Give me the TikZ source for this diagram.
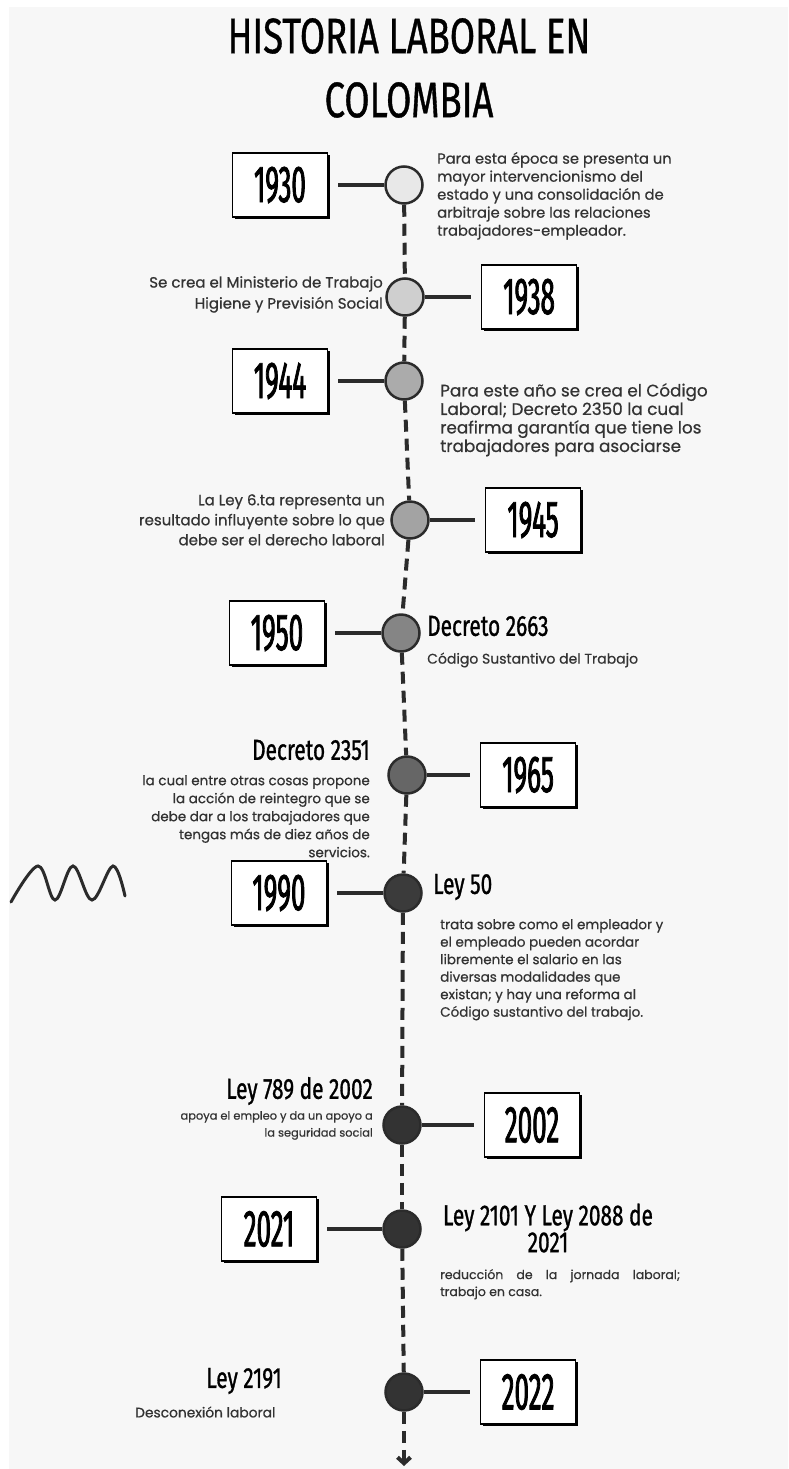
\documentclass[tikz,border=0pt]{standalone}
\usepackage{fontspec}
\setmainfont{Poppins}[FakeBold=0.6]
\newfontfamily\titlefont[FakeStretch=0.73,FakeBold=0.7]{Fira Sans}
\newfontfamily\handfont[FakeStretch=0.72,FakeBold=1]{Fira Sans}
\newfontfamily\yearfont[FakeStretch=0.5,FakeBold=1.5]{Fira Sans}
\usetikzlibrary{positioning,shadows,arrows.meta}
\definecolor{paper}{HTML}{F7F7F7}
\definecolor{ink}{HTML}{2B2B2B}
\definecolor{bodytext}{HTML}{333333}

\begin{document}
\begin{tikzpicture}[
       x=1pt, y=-1pt,
       node distance=56pt,
       yearbox/.style={rectangle, draw=black, line width=1.6pt, fill=white, minimum width=95pt, minimum height=64pt,
                       font=\yearfont\fontsize{52}{52}\selectfont,
                       drop shadow={shadow xshift=2.2pt, shadow yshift=-2.2pt, fill=black, opacity=1}},
       dot/.style={circle, draw=ink, line width=2.5pt, minimum size=37pt, inner sep=0pt},
       link/.style={line width=4pt, ink, shorten >=10pt},
       timeline/.style={line width=4pt, ink, dash pattern=on 12pt off 7pt},
       note/.style={text=bodytext, inner sep=0pt},
       head/.style={font=\handfont\fontsize{29}{24}\selectfont, inner sep=0pt, align=center}
   ]
   \useasboundingbox (0,0) rectangle (788,1469);
   \fill[white] (0,0) rectangle (788,1469);
   \fill[paper] (9,7) rectangle (788,1469);

   \node[font=\titlefont\fontsize{50}{64}\selectfont, align=center] (title) at (409,68) {HISTORIA LABORAL EN\\COLOMBIA};

   % timeline dots
   \node[dot, fill=black!9] (c1930) at (404,185) {};
   \node[dot, fill=black!19] (c1938) at (405,297) {};
   \node[dot, fill=black!33] (c1944) at (404,381) {};
   \node[dot, fill=black!36] (c1945) at (410,520) {};
   \node[dot, fill=black!48] (c1950) at (401,633) {};
   \node[dot, fill=black!60] (c1965) at (407,775) {};
   \node[dot, fill=black!77] (c1990) at (403,893) {};
   \node[dot, fill=black!80] (c2002) at (402,1125) {};
   \node[dot, fill=black!80] (c2021) at (402,1229) {};
   \node[dot, fill=black!80] (c2022) at (404,1392) {};
   \coordinate (tend) at (404,1466);

   % year boxes
   \node[yearbox, left=of c1930] (y1930) {1930};
   \node[yearbox, right=of c1938] (y1938) {1938};
   \node[yearbox, left=of c1944] (y1944) {1944};
   \node[yearbox, right=55pt of c1945] (y1945) {1945};
   \node[yearbox, left=of c1950] (y1950) {1950};
   \node[yearbox, right=53pt of c1965] (y1965) {1965};
   \node[yearbox, left=of c1990] (y1990) {1990};
   \node[yearbox, right=62pt of c2002] (y2002) {2002};
   \node[yearbox, left=65pt of c2021] (y2021) {2021};
   \node[yearbox, right=of c2022] (y2022) {2022};

   % texts
   \node[note, font=\fontsize{14.7}{18}\selectfont, align=left, anchor=north west] (t1930) at (437,152)
     {Para esta época se presenta un\\mayor intervencionismo del\\estado y una consolidación de\\arbitraje sobre las relaciones\\trabajadores-empleador.};
   \node[note, font=\fontsize{15}{21}\selectfont, align=right, anchor=north east] (t1938) at (383,276)
     {Se crea el Ministerio de Trabajo\\Higiene y Previsión Social};
   \node[note, font=\fontsize{16.8}{18.5}\selectfont, align=left, anchor=north west] (t1944) at (440,383)
     {Para este año se crea el Código\\Laboral; Decreto 2350 la cual\\reafirma garantía que tiene los\\trabajadores para asociarse};
   \node[note, font=\fontsize{15}{20}\selectfont, align=right, anchor=north east] (t1945) at (385,494)
     {La Ley 6.ta representa un\\resultado influyente sobre lo que\\debe ser el derecho laboral};
   \node[head, anchor=west] (h1950) at (427,626) {Decreto 2663};
   \node[note, font=\fontsize{14}{18}\selectfont, anchor=west] (t1950) at (427,660) {Código Sustantivo del Trabajo};
   \node[head, anchor=east] (h1965) at (370,750) {Decreto 2351};
   \node[note, font=\fontsize{13.5}{18}\selectfont, align=right, anchor=north east] (t1965) at (370,775)
     {la cual entre otras cosas propone\\la acción de reintegro que se\\debe dar a los trabajadores que\\tengas más de diez años de\\servicios.};
   \node[head, anchor=west] (h1990) at (433,887) {Ley 50};
   \node[note, font=\fontsize{13.5}{17.5}\selectfont, align=left, anchor=north west] (t1990) at (440,919)
     {trata sobre como el empleador y\\el empleado pueden acordar\\libremente el salario en las\\diversas modalidades que\\existan; y hay una reforma al\\Código sustantivo del trabajo.};
   \node[head, anchor=east] (h2002) at (373,1091) {Ley 789 de 2002};
   \node[note, font=\fontsize{11.4}{17}\selectfont, align=right, anchor=north east] (t2002) at (373,1111)
     {apoya el empleo y da un apoyo a\\la seguridad social};
   \node[head] (h2021) at (548,1228) {Ley 2101 Y Ley 2088 de\\2021};
   \node[note, font=\fontsize{12.5}{17}\selectfont, align=left, anchor=north west] (t2021) at (440,1269)
     {\makebox[240pt][s]{reducción de la jornada laboral;}\\trabajo en casa.};
   \node[head, anchor=east] (h2022) at (282,1381) {Ley 2191};
   \node[note, font=\fontsize{13.8}{17}\selectfont, anchor=west] (t2022) at (135,1412) {Desconexión laboral};

   % connectors
   \foreach \y in {1930,1938,1944,1945,1950,1965,1990,2002,2021,2022}
     \draw[link] (c\y) -- (y\y);
   \foreach \a/\b in {1930/1938,1938/1944,1944/1945,1945/1950,1950/1965,1965/1990,1990/2002,2002/2021,2021/2022}
     \draw[timeline] (c\a) -- (c\b);
   \draw[timeline, -{Straight Barb[length=6pt,width=13pt]}] (c2022) -- (tend);

   % squiggle on the left
   \draw[line width=3pt, ink, line cap=round] plot[smooth, tension=0.6] coordinates
     {(11,902) (38,866) (55,900) (73,866) (92,900) (113,866) (125,896)};
   \end{tikzpicture}
\end{document}
